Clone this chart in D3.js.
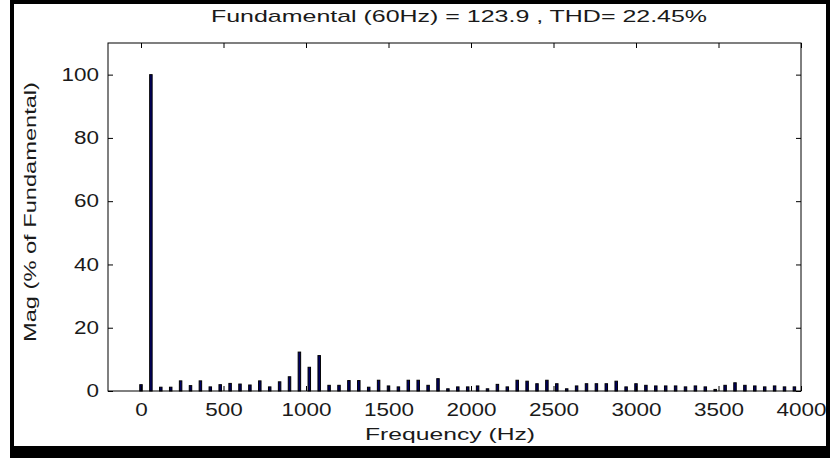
<!DOCTYPE html>
<html><head><meta charset="utf-8">
<script src="https://cdn.jsdelivr.net/npm/d3@7/dist/d3.min.js"></script>
<style>body{margin:0;background:#fff}svg{display:block}</style>
</head><body>
<script>
const titleText = "Fundamental (60Hz) = 123.9 , THD= 22.45%";
const xLabelText = "Frequency (Hz)";
const yLabelText = "Mag (% of Fundamental)";
const freqHz = [0,60,120,180,240,300,360,420,480,540,600,660,720,780,840,900,960,1020,1080,1140,1200,1260,1320,1380,1440,1500,1560,1620,1680,1740,1800,1860,1920,1980,2040,2100,2160,2220,2280,2340,2400,2460,2520,2580,2640,2700,2760,2820,2880,2940,3000,3060,3120,3180,3240,3300,3360,3420,3480,3540,3600,3660,3720,3780,3840,3900,3960];
const magPct = [2.0,100,1.2,1.2,3.2,1.7,3.2,1.3,2.0,2.4,2.2,1.9,3.2,1.3,2.9,4.5,12.3,7.5,11.2,1.8,1.8,3.3,3.3,1.2,3.4,1.6,1.3,3.4,3.4,1.8,3.9,0.7,1.3,1.3,1.6,0.7,2.1,1.3,3.4,3.1,2.3,3.4,2.3,0.7,1.6,2.3,2.3,2.3,3.1,1.3,2.3,1.8,1.6,1.6,1.6,1.3,1.6,1.3,0.5,1.8,2.6,1.8,1.6,1.3,1.6,1.3,1.3];
const xTicks = [0,500,1000,1500,2000,2500,3000,3500,4000];
const yTicks = [0,20,40,60,80,100];

const W = 830, H = 458;
const svg = d3.select("body").append("svg").attr("width", W).attr("height", H);
svg.append("rect").attr("width", W).attr("height", H).attr("fill", "#fff");

const m = {l: 108, r: 801, t: 43, b: 391};
const x = d3.scaleLinear().domain([-200, 4000]).range([m.l, m.r]);
const y = d3.scaleLinear().domain([0, 110]).range([m.b, m.t]);
const font = "'Liberation Sans', Arial, sans-serif";
const digitW = 12.5;
const textCol = "#1a1a1a";

// bars
const bw = x(15) - x(0);
svg.append("g").selectAll("rect").data(freqHz).join("rect")
  .attr("x", (d) => x(d) - bw / 2)
  .attr("y", (d, i) => y(magPct[i]))
  .attr("width", bw)
  .attr("height", (d, i) => y(0) - y(magPct[i]))
  .attr("fill", "#000066")
  .attr("stroke", "#000")
  .attr("stroke-width", 1);

// axes
const fmt = d3.format("d");
const gB = svg.append("g").attr("transform", `translate(0,${m.b})`)
  .call(d3.axisBottom(x).tickValues(xTicks).tickFormat(fmt).tickSizeInner(-5).tickSizeOuter(0).tickPadding(12));
const gL = svg.append("g").attr("transform", `translate(${m.l},0)`)
  .call(d3.axisLeft(y).tickValues(yTicks).tickFormat(fmt).tickSizeInner(-5).tickSizeOuter(0).tickPadding(9));
const gT = svg.append("g").attr("transform", `translate(0,${m.t})`)
  .call(d3.axisTop(x).tickValues(xTicks).tickSizeInner(-5).tickSizeOuter(0).tickFormat(""));
const gR = svg.append("g").attr("transform", `translate(${m.r},0)`)
  .call(d3.axisRight(y).tickValues(yTicks).tickSizeInner(-5).tickSizeOuter(0).tickFormat(""));
[gB, gL, gT, gR].forEach((g) => {
  g.select(".domain").remove();
  g.selectAll(".tick line").attr("stroke", "#000");
  g.selectAll("text").attr("font-family", font).attr("font-size", 18).attr("fill", textCol)
    .attr("textLength", function () { return this.textContent.length * digitW; })
    .attr("lengthAdjust", "spacingAndGlyphs");
});

// plot box
svg.append("rect").attr("x", m.l).attr("y", m.t).attr("width", m.r - m.l).attr("height", m.b - m.t)
  .attr("fill", "none").attr("stroke", "#000").attr("stroke-width", 1);

// title & labels
svg.append("text").attr("x", 459).attr("y", 22).attr("text-anchor", "middle").attr("fill", textCol)
  .attr("font-family", font).attr("font-size", 17).attr("textLength", 496).attr("lengthAdjust", "spacingAndGlyphs")
  .text(titleText);
svg.append("text").attr("x", 450).attr("y", 440).attr("text-anchor", "middle").attr("fill", textCol)
  .attr("font-family", font).attr("font-size", 17).attr("textLength", 170).attr("lengthAdjust", "spacingAndGlyphs")
  .text(xLabelText);
svg.append("text").attr("transform", "translate(36,212) rotate(-90)").attr("text-anchor", "middle").attr("fill", textCol)
  .attr("font-family", font).attr("font-size", 17).attr("textLength", 260).attr("lengthAdjust", "spacingAndGlyphs")
  .text(yLabelText);

// outer frame
const frame = svg.append("g").attr("fill", "#000");
frame.append("rect").attr("x", 10).attr("y", 0).attr("width", W - 10).attr("height", 4);
frame.append("rect").attr("x", 10).attr("y", 0).attr("width", 4).attr("height", H);
frame.append("rect").attr("x", W - 4).attr("y", 0).attr("width", 4).attr("height", H);
frame.append("rect").attr("x", 10).attr("y", 446).attr("width", W - 10).attr("height", H - 446);
</script>
</body></html>
